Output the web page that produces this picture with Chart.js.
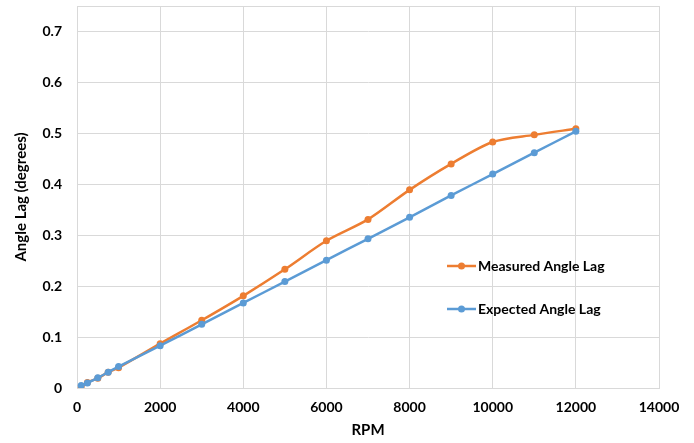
<!DOCTYPE html>
<html>
<head>
<meta charset="utf-8">
<script src="https://cdn.jsdelivr.net/npm/chart.js@4/dist/chart.umd.min.js"></script>
<style>
  html, body { margin: 0; padding: 0; background: #fff; }
  #wrap { width: 694px; height: 443px; position: relative; }
</style>
</head>
<body>
<div id="wrap"><canvas id="lagChart"></canvas></div>
<script>
const rpm = [100, 250, 500, 750, 1000, 2000, 3000, 4000, 5000, 6000, 7000, 8000, 9000, 10000, 11000, 12000];
const measuredLag = [0.0, 0.011, 0.019, 0.031, 0.04, 0.087, 0.133, 0.181, 0.233, 0.289, 0.331, 0.389, 0.44, 0.483, 0.497, 0.509];
const expectedLag = [0.005, 0.01, 0.02, 0.031, 0.042, 0.083, 0.125, 0.167, 0.209, 0.251, 0.293, 0.335, 0.378, 0.42, 0.462, 0.504];
const xTicks = [0, 2000, 4000, 6000, 8000, 10000, 12000, 14000];
const yTicks = [0, 0.1, 0.2, 0.3, 0.4, 0.5, 0.6, 0.7];

const ORANGE = '#ED7D31';
const BLUE = '#5B9BD5';
const GRID = '#d9d9d9';
const FONT = 'Lato, "Open Sans", sans-serif';

function toPoints(values) {
  return rpm.map((x, i) => ({ x, y: values[i] }));
}

const legendItems = [
  { label: 'Measured Angle Lag', color: ORANGE, y: 266 },
  { label: 'Expected Angle Lag', color: BLUE, y: 309 }
];

const plotFrame = {
  id: 'plotFrame',
  beforeDatasetsDraw(chart) {
    const { ctx, chartArea: a } = chart;
    ctx.save();
    ctx.strokeStyle = GRID;
    ctx.lineWidth = 1;
    ctx.strokeRect(a.left + 0.5, a.top + 0.5, a.right - a.left, a.bottom - a.top);
    ctx.restore();
  },
  afterDraw(chart) {
    const { ctx } = chart;
    ctx.save();
    legendItems.forEach(item => {
      ctx.strokeStyle = item.color;
      ctx.lineWidth = 2.5;
      ctx.beginPath();
      ctx.moveTo(447, item.y);
      ctx.lineTo(476, item.y);
      ctx.stroke();
      ctx.fillStyle = item.color;
      ctx.beginPath();
      ctx.arc(461.5, item.y, 3.5, 0, Math.PI * 2);
      ctx.fill();
      ctx.fillStyle = '#000';
      ctx.font = 'bold 14px ' + FONT;
      ctx.textBaseline = 'middle';
      ctx.fillText(item.label, 478, item.y);
    });
    ctx.restore();
  }
};

new Chart(document.getElementById('lagChart'), {
  type: 'line',
  data: {
    datasets: [
      {
        label: 'Expected Angle Lag',
        data: toPoints(expectedLag),
        borderColor: BLUE,
        backgroundColor: BLUE,
        borderWidth: 2.5,
        pointRadius: 3.5,
        pointBorderWidth: 0,
        tension: 0.3,
        order: 0
      },
      {
        label: 'Measured Angle Lag',
        data: toPoints(measuredLag),
        borderColor: ORANGE,
        backgroundColor: ORANGE,
        borderWidth: 2.5,
        pointRadius: 3.5,
        pointBorderWidth: 0,
        tension: 0.3,
        order: 1
      }
    ]
  },
  options: {
    responsive: true,
    maintainAspectRatio: false,
    animation: false,
    layout: { padding: { left: 0, right: 35, top: 6, bottom: 0 } },
    plugins: {
      legend: { display: false },
      tooltip: { enabled: false }
    },
    scales: {
      x: {
        type: 'linear',
        min: 0,
        max: 14000,
        afterBuildTicks: scale => { scale.ticks = xTicks.map(v => ({ value: v })); },
        afterFit: scale => {
          scale.height = 55;
          scale.paddingLeft = 0;
          scale.paddingRight = 0;
        },
        grid: { color: GRID, drawTicks: false },
        border: { color: GRID },
        ticks: {
          padding: 11,
          color: '#000',
          font: { family: FONT, size: 14, weight: 'bold' },
          callback: value => String(value)
        },
        title: {
          display: true,
          text: 'RPM',
          color: '#000',
          font: { family: FONT, size: 15, weight: 'bold' },
          padding: { top: 4, bottom: 4 }
        }
      },
      y: {
        min: 0,
        max: 0.75,
        afterBuildTicks: scale => { scale.ticks = yTicks.map(v => ({ value: v })); },
        afterFit: scale => {
          scale.width = 77;
          scale.paddingTop = 0;
          scale.paddingBottom = 0;
        },
        grid: { color: GRID, drawTicks: false },
        border: { color: GRID },
        ticks: {
          padding: 15,
          color: '#000',
          font: { family: FONT, size: 14, weight: 'bold' },
          callback: value => String(Math.round(value * 10) / 10)
        },
        title: {
          display: true,
          text: 'Angle Lag (degrees)',
          color: '#000',
          font: { family: FONT, size: 15, weight: 'bold' },
          padding: { top: 12, bottom: 4 }
        }
      }
    }
  },
  plugins: [plotFrame]
});
</script>
</body>
</html>
